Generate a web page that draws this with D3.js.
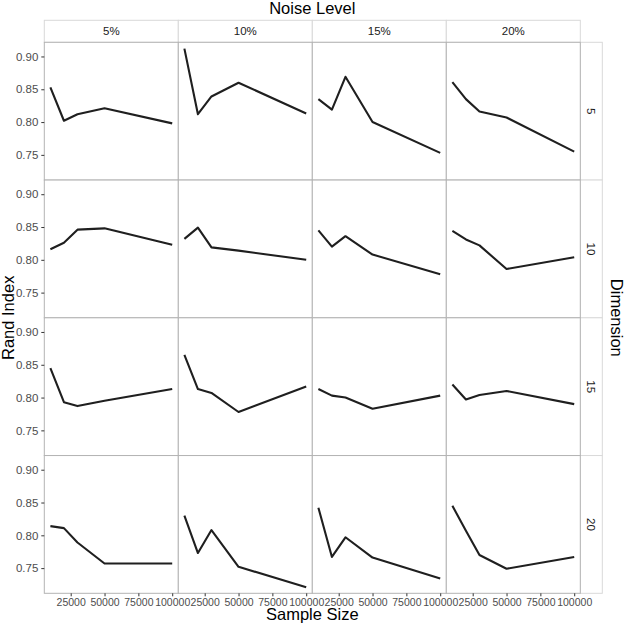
<!DOCTYPE html>
<html><head><meta charset="utf-8">
<script src="https://cdn.jsdelivr.net/npm/d3@7"></script>
<style>body{margin:0;background:#fff}svg{display:block;font-family:"Liberation Sans",Arial,sans-serif}</style>
</head><body><svg id="c" width="625" height="626"></svg>
<script>
const sampleSizes = [10000, 20000, 30000, 50000, 100000];
const noiseLevels = ["5%", "10%", "15%", "20%"];
const dimensions = ["5", "10", "15", "20"];
const xTicks = [25000, 50000, 75000, 100000];
const yTicks = [0.75, 0.80, 0.85, 0.90];
// Rand index per dimension row, one series per noise level
const dim5  = [[0.853,0.802,0.812,0.821,0.798],[0.912,0.812,0.839,0.860,0.813],[0.835,0.819,0.869,0.800,0.753],[0.861,0.835,0.816,0.807,0.755]];
const dim10 = [[0.816,0.826,0.846,0.848,0.823],[0.832,0.849,0.819,0.814,0.800],[0.845,0.820,0.836,0.808,0.778],[0.844,0.831,0.822,0.786,0.804]];
const dim15 = [[0.845,0.793,0.787,0.795,0.813],[0.865,0.813,0.807,0.778,0.817],[0.813,0.803,0.800,0.783,0.803],[0.820,0.797,0.804,0.810,0.790]];
const dim20 = [[0.814,0.811,0.789,0.757,0.757],[0.830,0.773,0.808,0.752,0.721],[0.842,0.767,0.797,0.766,0.734],[0.845,0.807,0.770,0.749,0.767]];
const rows = [dim5, dim10, dim15, dim20];

const svg = d3.select("#c");
const leftX = 44.3, topY = 42.3, pw = 134, ph = 137.75, stripH = 22, stripW = 22;
const border = "#b3b3b3";
const x = d3.scaleLinear().domain([5500, 104500]).range([0, pw]);
const y = d3.scaleLinear().domain([0.7116, 0.9216]).range([ph, 0]);
const line = d3.line().x((d,i)=>x(sampleSizes[i])).y(d=>y(d));

// top strips
noiseLevels.forEach((n, c) => {
  const g = svg.append("g").attr("transform", `translate(${leftX + c*pw},${topY - stripH})`);
  g.append("rect").attr("width", pw).attr("height", stripH).attr("fill", "#fff").attr("stroke", "#d9d9d9");
  g.append("text").attr("x", pw/2).attr("y", stripH/2).attr("dy", "0.35em").attr("text-anchor", "middle")
    .attr("font-size", 11.5).attr("fill", "#1a1a1a").text(n);
});
// right strips
dimensions.forEach((dm, r) => {
  const g = svg.append("g").attr("transform", `translate(${leftX + 4*pw},${topY + r*ph})`);
  g.append("rect").attr("width", stripW).attr("height", ph).attr("fill", "#fff").attr("stroke", "#d9d9d9");
  g.append("text").attr("transform", `translate(${stripW/2},${ph/2}) rotate(90)`).attr("dy", "0.35em")
    .attr("text-anchor", "middle").attr("font-size", 11.5).attr("fill", "#1a1a1a").text(dm);
});

rows.forEach((rowData, r) => {
  noiseLevels.forEach((n, c) => {
    const g = svg.append("g").attr("transform", `translate(${leftX + c*pw},${topY + r*ph})`);
    g.append("rect").attr("width", pw).attr("height", ph).attr("fill", "#fff").attr("stroke", border);
    g.append("path").datum(rowData[c]).attr("d", line).attr("fill", "none")
      .attr("stroke", "#1f1f1f").attr("stroke-width", 2.1).attr("stroke-linejoin", "round");
    if (c === 0) {
      const ax = g.append("g").call(d3.axisLeft(y).tickValues(yTicks).tickFormat(d3.format(".2f")).tickSize(3).tickPadding(3));
      ax.select(".domain").remove();
      ax.selectAll("line").attr("stroke", "#333");
      ax.selectAll("text").attr("font-size", 11.5).attr("fill", "#4d4d4d").attr("font-family", "Liberation Sans, Arial, sans-serif");
    }
    if (r === rows.length - 1) {
      const ax = g.append("g").attr("transform", `translate(0,${ph})`)
        .call(d3.axisBottom(x).tickValues(xTicks).tickFormat(d3.format("d")).tickSize(3).tickPadding(2));
      ax.select(".domain").remove();
      ax.selectAll("line").attr("stroke", "#333");
      ax.selectAll("text").attr("font-size", 10.5).attr("fill", "#4d4d4d").attr("font-family", "Liberation Sans, Arial, sans-serif");
    }
  });
});

const cx = leftX + 2*pw, cy = topY + 2*ph;
svg.append("text").attr("x", cx).attr("y", 14).attr("text-anchor", "middle").attr("font-size", 16.5).attr("fill", "#000").text("Noise Level");
svg.append("text").attr("x", cx).attr("y", 620).attr("text-anchor", "middle").attr("font-size", 16.5).attr("fill", "#000").text("Sample Size");
svg.append("text").attr("transform", `translate(14,${cy}) rotate(-90)`).attr("text-anchor", "middle").attr("font-size", 16.5).attr("fill", "#000").text("Rand Index");
svg.append("text").attr("transform", `translate(611,${cy}) rotate(90)`).attr("text-anchor", "middle").attr("font-size", 16.5).attr("fill", "#000").text("Dimension");
</script></body></html>
